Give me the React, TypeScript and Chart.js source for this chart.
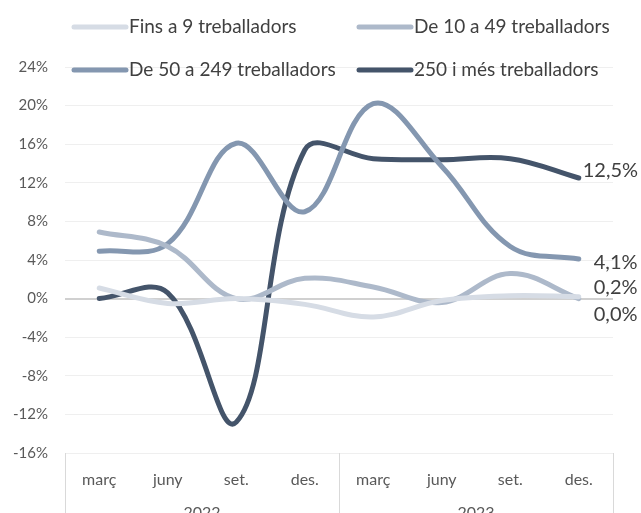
import React, { useEffect, useRef } from "react";
import { Chart, registerables } from "chart.js";

Chart.register(...registerables);

const months = ["març", "juny", "set.", "des.", "març", "juny", "set.", "des."];
const years = ["2022", "2023"];
const seriesNames = ["Fins a 9 treballadors", "De 10 a 49 treballadors", "De 50 a 249 treballadors", "250 i més treballadors"];
const fins9 = [1.1, -0.5, 0.0, -0.6, -1.9, -0.2, 0.3, 0.2];
const de10a49 = [6.9, 5.4, 0.0, 2.1, 1.2, -0.4, 2.6, 0.0];
const de50a249 = [4.9, 5.7, 16.1, 9.0, 20.2, 13.7, 5.4, 4.1];
const mes250 = [0.0, 0.6, -12.8, 15.4, 14.5, 14.4, 14.5, 12.5];
const yTicks = [24, 20, 16, 12, 8, 4, 0, -4, -8, -12, -16];

const colors = ["#d6dce5", "#adb9ca", "#8497b0", "#44546a"];
const FONT = "Lato, 'Open Sans', sans-serif";

const extrasPlugin = {
  id: "extras",
  afterDraw(chart: any) {
    const ctx = chart.ctx;
    const area = chart.chartArea;
    ctx.save();
    // x-axis box
    ctx.strokeStyle = "#d9d9d9";
    ctx.lineWidth = 1;
    const n = months.length;
    const per = n / years.length;
    const step = (area.right - area.left) / n;
    ctx.beginPath();
    for (let g = 0; g <= years.length; g++) {
      const x = Math.round(area.left + g * per * step) + 0.5;
      ctx.moveTo(x, area.bottom);
      ctx.lineTo(x, chart.height);
    }
    ctx.stroke();
    // year labels
    ctx.fillStyle = "#595959";
    ctx.font = `16px ${FONT}`;
    ctx.textAlign = "center";
    ctx.textBaseline = "middle";
    years.forEach((yr, g) => {
      const x = area.left + (g + 0.5) * per * step;
      ctx.fillText(yr, x, area.bottom + 60);
    });
    // end labels
    const offs = [[15, -9], [15, 16], [15, 4], [4, -7]];
    ctx.fillStyle = "#404040";
    ctx.font = `20px ${FONT}`;
    ctx.textAlign = "left";
    chart.data.datasets.forEach((ds: any, i: number) => {
      const meta = chart.getDatasetMeta(i);
      const pt = meta.data[meta.data.length - 1];
      const v = ds.data[ds.data.length - 1];
      const txt = v.toFixed(1).replace(".", ",") + "%";
      ctx.fillText(txt, pt.x + offs[i][0], pt.y + offs[i][1]);
    });
    // legend
    const colX = [72, 357];
    const rowY = [27, 70];
    ctx.font = `19px ${FONT}`;
    ctx.textBaseline = "middle";
    chart.data.datasets.forEach((ds: any, i: number) => {
      const x = colX[i % 2];
      const y = rowY[Math.floor(i / 2)];
      ctx.strokeStyle = ds.borderColor;
      ctx.lineWidth = 5;
      ctx.lineCap = "round";
      ctx.beginPath();
      ctx.moveTo(x + 2, y);
      ctx.lineTo(x + 54, y);
      ctx.stroke();
      ctx.fillStyle = "#404040";
      ctx.fillText(ds.label, x + 57, y);
    });
    ctx.restore();
  },
};

export default function App() {
  const ref = useRef<HTMLCanvasElement>(null);
  useEffect(() => {
    if (!ref.current) return;
    const data = [fins9, de10a49, de50a249, mes250];
    const chart = new Chart(ref.current, {
      type: "line",
      data: {
        labels: months,
        datasets: data.map((d, i) => ({
          label: seriesNames[i],
          data: d,
          borderColor: colors[i],
          backgroundColor: colors[i],
          borderWidth: 5,
          pointRadius: 0,
          tension: 0.38,
          borderCapStyle: "round",
          fill: false,
        })),
      },
      options: {
        animation: false,
        responsive: false,
        maintainAspectRatio: false,
        layout: { padding: { top: 67, right: 28, left: 0, bottom: 0 } },
        plugins: { legend: { display: false }, tooltip: { enabled: false } },
        scales: {
          x: {
            offset: true,
            grid: { display: false },
            border: { display: false },
            ticks: { color: "#595959", font: { size: 16, family: FONT }, padding: 9, maxRotation: 0 },
            afterFit: (s: any) => { s.height = 60; },
          },
          y: {
            min: -16,
            max: 24,
            afterBuildTicks: (s: any) => { s.ticks = yTicks.map((v) => ({ value: v })); },
            grid: {
              color: (c: any) => (c.tick && c.tick.value === 0 ? "#d0d0d0" : "#efefef"),
              lineWidth: (c: any) => (c.tick && c.tick.value === 0 ? 2 : 1),
              drawTicks: false,
            },
            border: { display: false },
            ticks: { color: "#595959", font: { size: 15, family: FONT }, padding: 17, callback: (v: any) => v + "%" },
            afterFit: (s: any) => { s.width = 65; },
          },
        },
      },
      plugins: [extrasPlugin],
    });
    return () => chart.destroy();
  }, []);
  return (
    <div style={{ position: "fixed", left: 0, top: 0, width: 641, height: 513, background: "#fff" }}>
      <canvas ref={ref} width={641} height={513} />
    </div>
  );
}
